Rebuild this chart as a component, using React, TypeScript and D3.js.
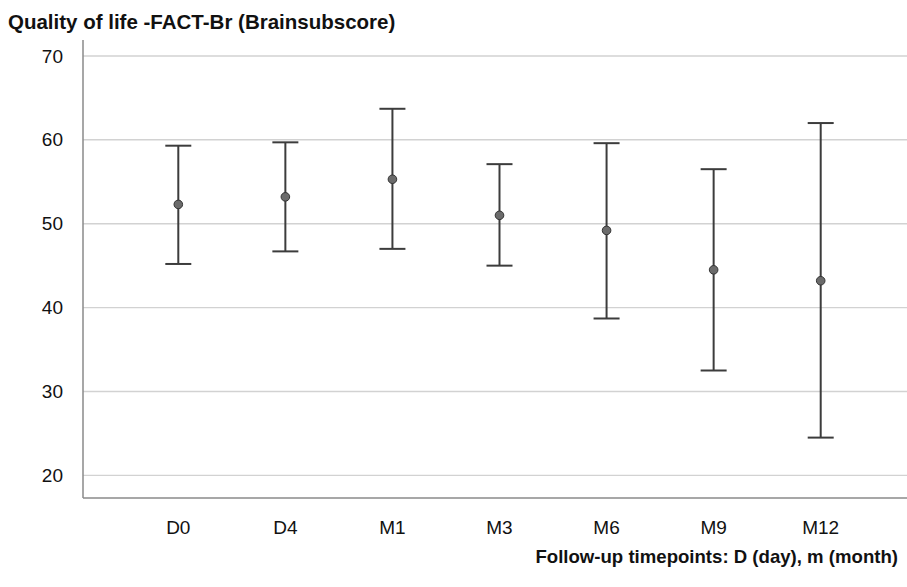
import React, { useEffect, useRef } from 'react';
import * as d3 from 'd3';

const timepoints = ['D0', 'D4', 'M1', 'M3', 'M6', 'M9', 'M12'];
const means = [52.3, 53.2, 55.3, 51.0, 49.2, 44.5, 43.2];
const lower = [45.2, 46.7, 47.0, 45.0, 38.7, 32.5, 24.5];
const upper = [59.3, 59.7, 63.7, 57.1, 59.6, 56.5, 62.0];
const yTicks = [20, 30, 40, 50, 60, 70];

const W = 907;
const H = 587;

const App = () => {
    const svgRef = useRef<SVGSVGElement>(null);

    useEffect(() => {
        const svg = d3.select(svgRef.current);
        svg.selectAll('*').remove();

        const left = 83, right = W, top = 40, bottom = 498;
        const font = '"Liberation Sans", Arial, sans-serif';

        const y = d3.scaleLinear().domain([17.3, 71.9]).range([bottom, top]);
        const x = d3.scalePoint().domain(timepoints).range([178.3, 820.7]);

        const rows = timepoints.map((t, i) => ({ t, m: means[i], lo: lower[i], hi: upper[i] }));

        // gridlines
        svg.append('g').selectAll('line').data(yTicks).join('line')
            .attr('x1', left).attr('x2', right)
            .attr('y1', d => y(d)).attr('y2', d => y(d))
            .attr('stroke', '#d2d2d2').attr('stroke-width', 1.4);

        // y labels
        svg.append('g').selectAll('text').data(yTicks).join('text')
            .attr('x', 63).attr('y', d => y(d)).attr('dy', '0.35em')
            .attr('text-anchor', 'end')
            .style('font-family', font).style('font-size', '19px').attr('fill', '#111')
            .text(d => d);

        // axes lines
        svg.append('line').attr('x1', left).attr('x2', left).attr('y1', top).attr('y2', bottom)
            .attr('stroke', '#8a8a8a').attr('stroke-width', 1.5);
        svg.append('line').attr('x1', left).attr('x2', right).attr('y1', bottom).attr('y2', bottom)
            .attr('stroke', '#8a8a8a').attr('stroke-width', 1.5);

        // x labels
        svg.append('g').selectAll('text').data(timepoints).join('text')
            .attr('x', d => x(d)!).attr('y', 534)
            .attr('text-anchor', 'middle')
            .style('font-family', font).style('font-size', '19px').attr('fill', '#111')
            .text(d => d);

        const g = svg.append('g');
        const bar = g.selectAll('g').data(rows).join('g');
        bar.append('line')
            .attr('x1', d => x(d.t)!).attr('x2', d => x(d.t)!)
            .attr('y1', d => y(d.hi)).attr('y2', d => y(d.lo))
            .attr('stroke', '#3c3c3c').attr('stroke-width', 2);
        bar.selectAll('line.cap').data(d => [d.hi, d.lo].map(v => ({ t: d.t, v }))).join('line')
            .attr('class', 'cap')
            .attr('x1', d => x(d.t)! - 13).attr('x2', d => x(d.t)! + 13)
            .attr('y1', d => y(d.v)).attr('y2', d => y(d.v))
            .attr('stroke', '#3c3c3c').attr('stroke-width', 2);
        bar.append('circle')
            .attr('cx', d => x(d.t)!).attr('cy', d => y(d.m)).attr('r', 4.3)
            .attr('fill', '#6b6b6b').attr('stroke', '#333').attr('stroke-width', 1);

        // titles
        svg.append('text').attr('x', 8).attr('y', 29)
            .style('font-family', font).style('font-size', '20.5px').style('font-weight', 'bold').attr('fill', '#111')
            .text('Quality of life -FACT-Br (Brainsubscore)');
        svg.append('text').attr('x', 898).attr('y', 563).attr('text-anchor', 'end')
            .style('font-family', font).style('font-size', '18.6px').style('font-weight', 'bold').attr('fill', '#111')
            .text('Follow-up timepoints: D (day), m (month)');
    }, []);

    return (
        <svg ref={svgRef} width={W} height={H}
            style={{ position: 'absolute', left: 0, top: 0, background: '#fff' }} />
    );
};

export default App;
